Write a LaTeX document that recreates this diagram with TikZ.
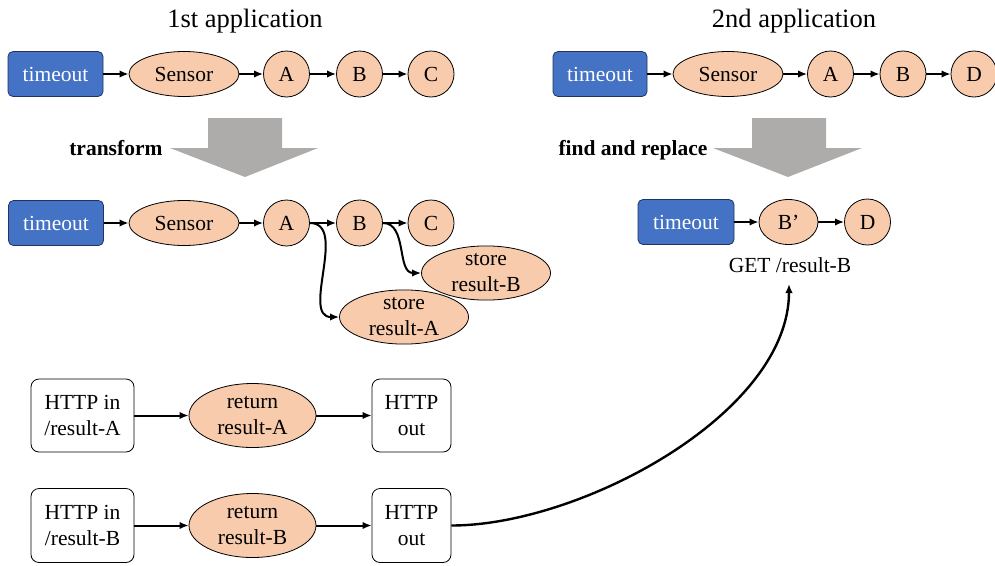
\documentclass[tikz,border=0pt]{standalone}
\usepackage{fontspec}
\setmainfont{Liberation Serif}
\usetikzlibrary{shapes.geometric,arrows.meta}
\definecolor{tblue}{HTML}{4472C4}
\definecolor{tblueb}{HTML}{1F3560}
\definecolor{peach}{HTML}{F8CBAD}
\definecolor{bigarrow}{HTML}{AEABAB}
\tikzset{
  x=1pt, y=-1pt,
  nodefont/.style={font=\fontsize{21.5}{26}\selectfont},
  trig/.style={nodefont, draw=tblueb, fill=tblue, text=white, rounded corners=5pt, line width=0.8pt, minimum height=45pt, inner sep=0pt},
  proc/.style={nodefont, ellipse, draw=black, fill=peach, line width=0.8pt, inner sep=0pt},
  circ/.style={nodefont, circle, draw=black, fill=peach, line width=0.8pt, minimum size=46pt, inner sep=0pt},
  httpbox/.style={nodefont, draw=black, fill=white, rounded corners=8pt, line width=0.8pt, align=center, inner sep=0pt},
  flow/.style={line width=2pt, -{Latex[length=9pt,width=7.5pt]}},
  title/.style={font=\fontsize{26.5}{30}\selectfont, anchor=base},
  op/.style={font=\bfseries\fontsize{21.5}{26}\selectfont, anchor=base east},
  gray arrow/.style={fill=bigarrow, draw=none}
}
\begin{document}
\begin{tikzpicture}
\useasboundingbox (0,0) rectangle (995,565);

% titles
\node[title] (title1) at (245,27) {1st application};
\node[title] (title2) at (794,27) {2nd application};

% 1st application, row 1
\node[trig, minimum width=95pt] (t1) at (55.5,74) {timeout};
\node[proc, minimum width=110pt, minimum height=45pt] (s1) at (184,74) {Sensor};
\node[circ] (a1) at (286.5,74) {A};
\node[circ] (b1) at (359.5,74) {B};
\node[circ] (c1) at (431,74) {C};
\draw[flow] (t1) -- (s1);
\draw[flow] (s1) -- (a1);
\draw[flow] (a1) -- (b1);
\draw[flow] (b1) -- (c1);

% 2nd application, row 1
\node[trig, minimum width=94pt] (t2) at (600,74) {timeout};
\node[proc, minimum width=110pt, minimum height=45pt] (s2) at (728,74) {Sensor};
\node[circ] (a2) at (830.5,74) {A};
\node[circ] (b2) at (903,74) {B};
\node[circ] (d2) at (974,74) {D};
\draw[flow] (t2) -- (s2);
\draw[flow] (s2) -- (a2);
\draw[flow] (a2) -- (b2);
\draw[flow] (b2) -- (d2);

% big gray arrows
\fill[gray arrow] (208,118) -- (282,118) -- (282,148) -- (318,148) -- (245,177) -- (170,148) -- (208,148) -- cycle;
\fill[gray arrow] (752,118) -- (826,118) -- (826,148) -- (862,148) -- (788,177) -- (713,148) -- (752,148) -- cycle;
\node[op] (transform) at (166,155) {transform};
\node[op] (findrepl) at (711,155) {find and replace};

% 1st application, transformed
\node[trig, minimum width=95pt] (t3) at (56,223) {timeout};
\node[proc, minimum width=110pt, minimum height=45pt] (s3) at (184,223) {Sensor};
\node[circ] (a3) at (286.5,223) {A};
\node[circ] (b3) at (359.5,223) {B};
\node[circ] (c3) at (431,223) {C};
\node[proc, minimum width=129pt, minimum height=53pt, align=center] (stB) at (486,273) {store\\result-B};
\node[proc, minimum width=129pt, minimum height=53pt, align=center] (stA) at (404,317) {store\\result-A};
\draw[flow] (t3) -- (s3);
\draw[flow] (s3) -- (a3);
\draw[flow] (a3) -- (b3);
\draw[flow] (b3) -- (c3);
\draw[flow] (a3.east) to[out=0,in=180] (stA.west);
\draw[flow] (b3.east) to[out=0,in=180] (stB.west);

% 2nd application, replaced
\node[trig, minimum width=96pt] (t4) at (686,222) {timeout};
\node[proc, minimum width=59pt, minimum height=45pt] (bp) at (788.5,222) {B’};
\node[circ] (d4) at (867.5,222) {D};
\draw[flow] (t4) -- (bp);
\draw[flow] (bp) -- (d4);
\node[nodefont, inner sep=0pt] (get) at (790,265) {GET /result-B};
\coordinate (gettip) at (789,284);

% HTTP endpoints
\node[httpbox, minimum width=103pt, minimum height=73pt] (hA) at (82.5,415.5) {HTTP in\\/result-A};
\node[proc, minimum width=127pt, minimum height=64pt, align=center] (rA) at (252.5,415.5) {return\\result-A};
\node[httpbox, minimum width=79pt, minimum height=73pt] (oA) at (411.5,415.5) {HTTP\\out};
\draw[flow] (hA) -- (rA);
\draw[flow] (rA) -- (oA);

\node[httpbox, minimum width=103pt, minimum height=74pt] (hB) at (82.5,525.5) {HTTP in\\/result-B};
\node[proc, minimum width=127pt, minimum height=64pt, align=center] (rB) at (252.5,525.5) {return\\result-B};
\node[httpbox, minimum width=79pt, minimum height=74pt] (oB) at (411.5,525.5) {HTTP\\out};
\draw[flow] (hB) -- (rB);
\draw[flow] (rB) -- (oB);

\draw[line width=2.4pt, -{Latex[length=9pt,width=7.5pt]}] (oB.east) to[out=0,in=-90,looseness=0.8] (gettip);
\end{tikzpicture}
\end{document}
